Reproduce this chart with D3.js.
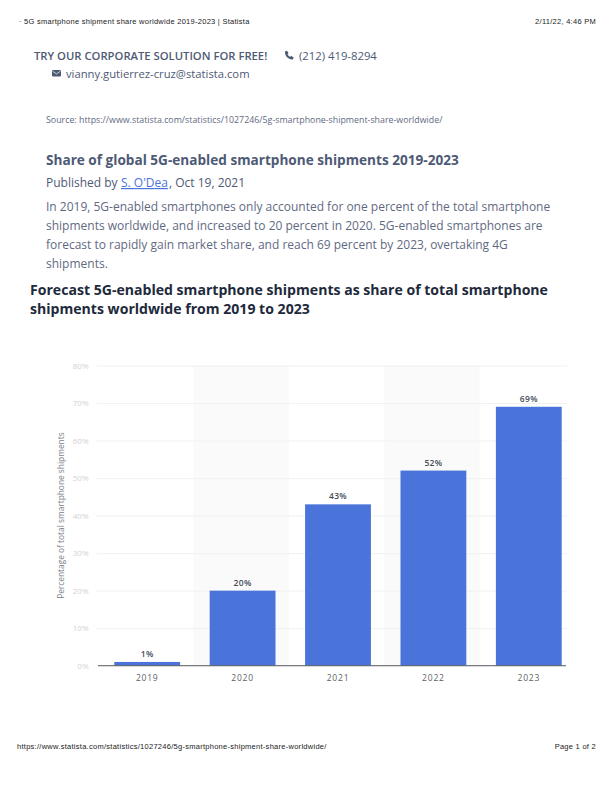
<!DOCTYPE html>
<html>
<head>
<meta charset="UTF-8">
<title>5G smartphone shipment share worldwide 2019-2023 | Statista</title>
<script src="https://cdn.jsdelivr.net/npm/d3@7/dist/d3.min.js"></script>
<style>
  html, body { margin: 0; padding: 0; background: #fff; }
  svg { display: block; }
  text { font-family: "Open Sans", sans-serif; }
  .print { font-family: "Liberation Sans", sans-serif; font-size: 7.5px; letter-spacing: 0.27px; fill: #222; }
</style>
</head>
<body>
<div id="chart"></div>
<script>
const years = ["2019", "2020", "2021", "2022", "2023"];
const shares = [1, 20, 43, 52, 69];
const yTicks = [0, 10, 20, 30, 40, 50, 60, 70, 80];
const shadedYears = ["2020", "2022"];
const bodyLines = [
  "In 2019, 5G-enabled smartphones only accounted for one percent of the total smartphone",
  "shipments worldwide, and increased to 20 percent in 2020. 5G-enabled smartphones are",
  "forecast to rapidly gain market share, and reach 69 percent by 2023, overtaking 4G",
  "shipments."
];
const titleLines = [
  "Forecast 5G-enabled smartphone shipments as share of total smartphone",
  "shipments worldwide from 2019 to 2023"
];

const width = 612;
const height = 792;
const marginTop = 365.5;
const marginBottom = 126.3;
const marginLeft = 99.5;
const marginRight = 35.5;

const svg = d3.select("#chart").append("svg")
  .attr("width", width)
  .attr("height", height);

// page text
function label(x, y, str, size, fill, weight) {
  return svg.append("text")
    .attr("x", x).attr("y", y)
    .attr("font-size", size + "px")
    .attr("font-weight", weight || 400)
    .attr("fill", fill)
    .text(str);
}

svg.append("text").attr("class", "print").attr("x", 19).attr("y", 24)
  .text("\u00b7 5G smartphone shipment share worldwide 2019-2023 | Statista");
svg.append("text").attr("class", "print").attr("x", 596).attr("y", 24)
  .attr("text-anchor", "end").text("2/11/22, 4:46 PM");
svg.append("text").attr("class", "print").attr("x", 17).attr("y", 749)
  .text("https://www.statista.com/statistics/1027246/5g-smartphone-shipment-share-worldwide/");
svg.append("text").attr("class", "print").attr("x", 596).attr("y", 749)
  .attr("text-anchor", "end").text("Page 1 of 2");

label(34, 60, "TRY OUR CORPORATE SOLUTION FOR FREE!", 11.25, "#4e5a75", 600);
label(299, 60, "(212) 419-8294", 11.3, "#4e5a75");
label(66, 78, "vianny.gutierrez-cruz@statista.com", 11.25, "#4e5a75");
label(46, 123, "Source: https://www.statista.com/statistics/1027246/5g-smartphone-shipment-share-worldwide/", 8.83, "#5f6a82");

// phone and mail icons
svg.append("path")
  .attr("d", "M285 52.5l2-.8 1.6 2.6-1.1 1c.6 1.2 1.4 2 2.6 2.6l1-1.1 2.6 1.6-.8 2c-4.5.4-8.3-3.4-7.9-7.9z")
  .attr("transform", "translate(0,-1)")
  .attr("fill", "#4e5a75");
svg.append("rect").attr("x", 52).attr("y", 70).attr("width", 9).attr("height", 6.5).attr("rx", 1).attr("fill", "#4e5a75");
svg.append("path").attr("d", "M52.5 71l4 3 4-3").attr("fill", "none").attr("stroke", "#fff").attr("stroke-width", 0.7);

label(46, 165, "Share of global 5G-enabled smartphone shipments 2019-2023", 13.6, "#4e5a75", 700);
label(46, 187, "Published by ", 12, "#4e5a75");
label(121, 187, "S. O'Dea", 12, "#4a74d9").attr("text-decoration", "underline");
label(169, 187, ", Oct 19, 2021", 12, "#4e5a75");

svg.append("g").selectAll("text")
  .data(bodyLines)
  .join("text")
  .attr("x", 46)
  .attr("y", (d, i) => 211 + i * 19)
  .attr("font-size", "12px")
  .attr("fill", "#5f6a82")
  .text(d => d);

svg.append("g").selectAll("text")
  .data(titleLines)
  .join("text")
  .attr("x", 30)
  .attr("y", (d, i) => 295 + i * 19)
  .attr("font-size", "14.08px")
  .attr("font-weight", 700)
  .attr("fill", "#1e2a3c")
  .text(d => d);

// chart
const x = d3.scaleBand()
  .domain(years)
  .range([marginLeft, width - marginRight])
  .paddingInner(0.31)
  .paddingOuter(0.155);

const bandStep = x.step();

const y = d3.scaleLinear()
  .domain([0, 80])
  .range([height - marginBottom, marginTop]);

svg.append("g").selectAll("rect")
  .data(shadedYears)
  .join("rect")
  .attr("x", d => x(d) + x.bandwidth() / 2 - bandStep / 2 - 1.5)
  .attr("y", y(80))
  .attr("width", bandStep)
  .attr("height", y(0) - y(80))
  .attr("fill", "#fafafa");

const yAxis = svg.append("g")
  .attr("transform", "translate(" + marginLeft + ",0)")
  .call(d3.axisLeft(y).tickValues(yTicks).tickFormat(d => d + "%").tickSize(0).tickPadding(11));
yAxis.select(".domain").remove();
yAxis.selectAll("text")
  .attr("font-family", "Open Sans")
  .attr("font-size", "8px")
  .attr("fill", "#d2d2d2");
yAxis.selectAll("line")
  .attr("x1", -3)
  .attr("x2", 468)
  .attr("stroke", "#eeeeee")
  .attr("stroke-width", 0.8);

svg.append("g").selectAll("rect")
  .data(years)
  .join("rect")
  .attr("x", d => x(d))
  .attr("y", (d, i) => y(shares[i]))
  .attr("width", x.bandwidth())
  .attr("height", (d, i) => y(0) - y(shares[i]))
  .attr("fill", "#4a74d9");

svg.append("g").selectAll("text")
  .data(years)
  .join("text")
  .attr("x", d => x(d) + x.bandwidth() / 2)
  .attr("y", (d, i) => y(shares[i]) - 5)
  .attr("text-anchor", "middle")
  .attr("font-size", "8.5px")
  .attr("font-weight", 600)
  .attr("letter-spacing", "0.3px")
  .attr("fill", "#444b58")
  .text((d, i) => shares[i] + "%");

const xAxis = svg.append("g")
  .attr("transform", "translate(0," + y(0) + ")")
  .call(d3.axisBottom(x).tickSize(0).tickPadding(9));
xAxis.select(".domain")
  .attr("d", "M98,0H566")
  .attr("stroke", "#5b5f66")
  .attr("stroke-width", 1);
xAxis.selectAll("text")
  .attr("font-family", "Open Sans")
  .attr("font-size", "8.5px")
  .attr("letter-spacing", "0.8px")
  .attr("fill", "#5b5f66");

svg.append("text")
  .attr("transform", "translate(63.5," + (y(0) + y(80)) / 2 + ") rotate(-90)")
  .attr("text-anchor", "middle")
  .attr("font-size", "8.35px")
  .attr("fill", "#7a7f88")
  .text("Percentage of total smartphone shipments");
</script>
</body>
</html>
